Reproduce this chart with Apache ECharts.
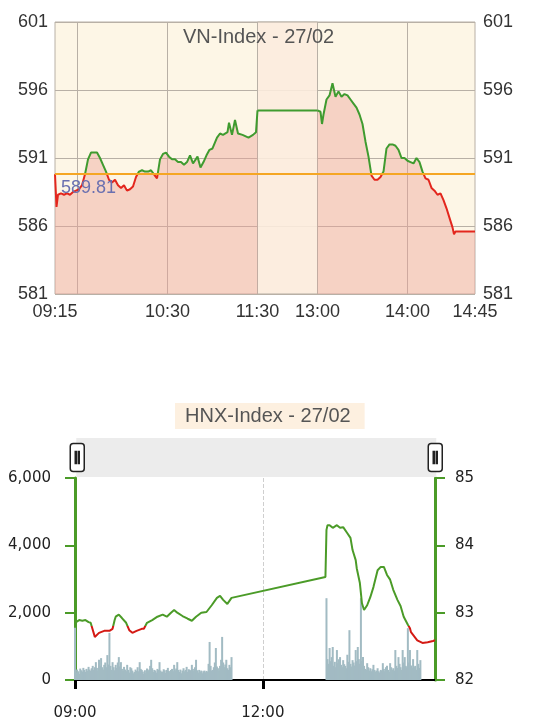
<!DOCTYPE html>
<html>
<head>
<meta charset="utf-8">
<script src="https://cdn.jsdelivr.net/npm/echarts@6/dist/echarts.min.js"></script>
<style>
  html, body { margin: 0; padding: 0; background: #fff; }
  #chart { width: 544px; height: 728px; }
</style>
</head>
<body>
<div id="chart"></div>
<script>
// ---------- VN-Index intraday ----------
const vnTitle = 'VN-Index - 27/02';
const vnRef = 589.81;
const vnTickLabels = ['09:15', '10:30', '11:30', '13:00', '14:00', '14:45'];
const vnGridTimes = ['09:30', '10:30', '11:30', '13:00', '14:00'];
const vnLunch = ['11:30', '13:00'];

const vnAmTimes = ['09:15','09:16','09:17','09:19','09:21','09:23','09:25','09:27','09:29','09:31',
  '09:33','09:35','09:37','09:39','09:41','09:43','09:45','09:47','09:49','09:51',
  '09:53','09:55','09:57','09:59','10:01','10:03','10:05','10:07','10:09','10:11',
  '10:13','10:15','10:17','10:19','10:21','10:23','10:25','10:27','10:29','10:31',
  '10:33','10:35','10:37','10:39','10:41','10:43','10:45','10:47','10:50','10:52',
  '10:54','10:56','10:58','11:00','11:03','11:05','11:07','11:10','11:11','11:13',
  '11:15','11:17','11:20','11:24','11:27','11:29','11:30'];
const vnAmValues = [589.8,587.4,588.3,588.4,588.3,588.4,588.3,588.5,588.6,588.7,
  589.0,589.8,590.9,591.4,591.4,591.4,591.0,590.5,590.0,589.4,
  589.2,589.4,589.0,588.8,589.0,588.6,588.7,588.9,589.6,590.0,
  590.1,590.0,590.0,590.1,589.8,589.5,590.9,591.3,591.4,591.1,
  590.9,590.9,590.7,590.7,590.5,590.7,591.2,590.6,591.1,590.3,
  590.7,591.2,591.6,591.7,592.5,592.8,592.7,592.9,593.6,592.7,
  593.8,592.8,592.7,592.5,592.7,592.9,594.5];

const vnPmTimes = ['13:00','13:02','13:03','13:04','13:06','13:08','13:10','13:12','13:14','13:16',
  '13:18','13:20','13:22','13:24','13:26','13:28','13:30','13:32','13:34','13:36',
  '13:38','13:40','13:42','13:44','13:46','13:48','13:50','13:52','13:54','13:56',
  '13:58','14:00','14:02','14:04','14:06','14:08','14:10','14:12','14:14','14:16',
  '14:18','14:20','14:22','14:24','14:26','14:28','14:30','14:31','14:32','14:45'];
const vnPmValues = [594.5,594.4,593.5,594.2,595.3,595.6,596.5,595.5,595.9,595.5,
  595.7,595.6,595.3,595.0,594.7,594.2,593.5,592.2,591.1,589.7,
  589.4,589.4,589.6,590.0,591.7,592.0,592.0,591.9,591.6,591.0,
  591.0,590.8,590.7,590.6,591.0,590.7,590.0,589.5,589.4,588.8,
  588.6,588.3,588.4,587.9,587.3,586.6,585.9,585.4,585.6,585.6];

// ---------- HNX-Index intraday ----------
const hnxTitle = 'HNX-Index - 27/02';
const hnxRef = 82.8;
const hnxTickLabels = ['09:00', '12:00'];
const hnxTimes = ['09:01','09:04','09:07','09:10','09:13','09:15','09:19','09:23','09:28','09:33',
  '09:36','09:38','09:39','09:42','09:45','09:49','09:52','09:55','09:59','10:04',
  '10:06','10:09','10:14','10:19','10:24','10:28','10:32','10:35','10:38','10:43',
  '10:48','10:52','10:56','11:01','11:06','11:11','11:16','11:19','11:22','11:26',
  '11:30','13:00','13:01','13:02','13:04','13:07','13:11','13:14','13:17','13:21',
  '13:24','13:26','13:29','13:30','13:33','13:35','13:37','13:40','13:43','13:46',
  '13:50','13:53','13:56','13:59','14:02','14:05','14:09','14:12','14:15','14:19',
  '14:21','14:22','14:24','14:28','14:33','14:38','14:43','14:45'];
const hnxValues = [82.86,82.89,82.88,82.89,82.86,82.85,82.64,82.70,82.73,82.73,
  82.76,82.89,82.94,82.97,82.92,82.85,82.74,82.70,82.73,82.76,
  82.76,82.85,82.89,82.94,82.97,82.94,83.00,83.04,83.00,82.95,
  82.91,82.88,82.94,83.00,83.01,83.11,83.22,83.25,83.19,83.13,
  83.22,83.53,84.23,84.30,84.30,84.26,84.30,84.26,84.27,84.18,
  84.11,83.93,83.78,83.66,83.44,83.14,83.04,83.11,83.23,83.38,
  83.63,83.68,83.68,83.56,83.49,83.34,83.19,83.10,82.94,82.82,
  82.77,82.71,82.67,82.59,82.55,82.56,82.58,82.59];

// per-minute volume, morning session from 09:00
const hnxVolAmStart = '09:00';
const hnxVolAm = [1550,
  220,310,260,180,340,290,250,360,300,240,330,280,390,310,270,350,420,300,380,
  530,360,280,600,420,650,380,310,450,520,380,740,460,1400,420,300,530,380,290,450,
  360,520,680,400,530,330,270,390,310,260,450,300,220,380,350,280,200,240,310,270,
  380,260,530,330,300,250,180,290,200,340,260,310,420,600,350,240,300,280,220,330,
  300,530,280,240,250,320,290,210,300,360,270,230,300,330,260,450,290,340,530,300,
  240,310,200,280,350,260,300,390,240,320,300,280,450,330,260,380,600,290,220,300,
  250,280,200,260,280,230,270,250,480,1130,420,280,300,380,520,950,400,350,280,420,
  600,1280,520,380,460,600,350,300,450,380,680];
// per-minute volume, afternoon session from 13:01
const hnxVolPmStart = '13:01';
const hnxVolPm = [2430,620,480,950,560,680,980,420,540,380,
  890,500,620,680,450,380,590,470,420,350,
  750,540,1480,480,400,590,520,430,890,560,
  980,620,480,2430,560,680,420,330,300,500,
  380,280,350,260,320,450,300,250,280,350,
  260,220,300,280,500,330,260,380,420,300,
  240,500,380,300,350,280,890,420,360,680,
  480,380,300,890,520,680,420,380,1540,520,
  890,430,360,620,380,420,300,890,480,360,590];

// ---------- helpers ----------
function minutesOf(t) {
  const p = t.split(':').map(Number);
  return p[0] * 60 + p[1];
}
// VN axis runs on trading minutes with the lunch break squeezed into a fixed band
const vnOpen = minutesOf('09:15');
const vnLunchStart = minutesOf(vnLunch[0]);
const vnLunchEnd = minutesOf(vnLunch[1]);
const vnLunchWidth = 40;
function vnSlot(t) {
  const m = minutesOf(t);
  if (m <= vnLunchStart) return m - vnOpen;
  return (vnLunchStart - vnOpen) + vnLunchWidth + (m - vnLunchEnd);
}
const vnLabelBySlot = {};
vnTickLabels.forEach(t => { vnLabelBySlot[vnSlot(t)] = t; });

const hnxOpen = minutesOf('09:00');
const hnxMinute = t => minutesOf(t) - hnxOpen;
const hnxLabelByMinute = {};
hnxTickLabels.forEach(t => { hnxLabelByMinute[hnxMinute(t)] = t; });

const vnAm = vnAmTimes.map((t, i) => [vnSlot(t), vnAmValues[i]]);
const vnPm = vnPmTimes.map((t, i) => [vnSlot(t), vnPmValues[i]]);
const vnBreak = [[vnSlot(vnLunch[0]), vnAmValues[vnAmValues.length - 1]],
                 [vnSlot(vnLunch[1]), vnPmValues[0]]];
const hnxLine = hnxTimes.map((t, i) => [hnxMinute(t), hnxValues[i]]);
const hnxVol = hnxVolAm.map((v, i) => [hnxMinute(hnxVolAmStart) + i, v])
  .concat(hnxVolPm.map((v, i) => [hnxMinute(hnxVolPmStart) + i, v]));

// ---------- styling ----------
const GREEN = '#3f9b2f';
const RED = '#e3261d';
const HNX_GREEN = '#4b9b28';
const HNX_RED = '#d41a14';
const GRID_LINE = '#b8b0a6';
const SANS = '"Liberation Sans", Arial, Helvetica, sans-serif';
const BOX = '"DejaVu Sans", Verdana, sans-serif';

const chart = echarts.init(document.getElementById('chart'), null, { renderer: 'canvas' });

chart.setOption({
  animation: false,
  title: [
    {
      text: vnTitle, left: 183, top: 27, padding: 0,
      textStyle: { fontFamily: SANS, fontSize: 20, fontWeight: 'normal', color: '#555' }
    },
    {
      text: hnxTitle, left: 175, top: 403, padding: [3, 14, 3, 10],
      backgroundColor: '#fdf0e0',
      textStyle: { fontFamily: SANS, fontSize: 20, fontWeight: 'normal', color: '#555' }
    }
  ],
  grid: [
    { left: 55, right: 69, top: 22, height: 272, show: true,
      backgroundColor: '#fdf6e6', borderColor: GRID_LINE, borderWidth: 1 },
    { left: 75, right: 109, top: 478, height: 202 }
  ],
  xAxis: [
    {
      gridIndex: 0, type: 'value', min: 0, max: vnSlot('14:45'),
      axisLine: { show: false, onZero: false },
      axisTick: { show: false, customValues: vnGridTimes.map(vnSlot) },
      splitLine: { show: true, lineStyle: { color: GRID_LINE, width: 1 } },
      axisLabel: {
        customValues: vnTickLabels.map(vnSlot),
        formatter: v => vnLabelBySlot[v] || '',
        fontFamily: SANS, fontSize: 18, color: '#333', margin: 9
      }
    },
    {
      gridIndex: 1, type: 'value', min: 0, max: hnxMinute('14:45'),
      axisLine: { show: true, onZero: false, lineStyle: { color: '#000', width: 2 } },
      axisTick: { show: true, customValues: hnxTickLabels.map(hnxMinute), length: 9,
        lineStyle: { color: '#000', width: 3 } },
      splitLine: { show: true, lineStyle: { color: '#cfcfcf', type: 'dashed', width: 1 } },
      axisLabel: {
        customValues: hnxTickLabels.map(hnxMinute),
        formatter: v => hnxLabelByMinute[v] || '',
        fontFamily: BOX, fontSize: 15, color: '#222', margin: 26
      }
    }
  ],
  yAxis: [
    {
      gridIndex: 0, type: 'value', min: 581, max: 601, interval: 5, position: 'left',
      axisLine: { show: false, onZero: false }, axisTick: { show: false },
      splitLine: { show: true, lineStyle: { color: GRID_LINE, width: 1 } },
      axisLabel: { fontFamily: SANS, fontSize: 18, color: '#333', margin: 7 }
    },
    {
      gridIndex: 0, type: 'value', min: 581, max: 601, interval: 5, position: 'right',
      axisLine: { show: false, onZero: false }, axisTick: { show: false },
      splitLine: { show: false },
      axisLabel: { fontFamily: SANS, fontSize: 18, color: '#333', margin: 8 }
    },
    {
      gridIndex: 1, type: 'value', min: 0, max: 6000, interval: 2000, position: 'left',
      axisLine: { show: true, onZero: false, lineStyle: { color: HNX_GREEN, width: 3 } },
      axisTick: { show: true, length: 10, lineStyle: { color: HNX_GREEN, width: 2 } },
      splitLine: { show: false },
      axisLabel: { fontFamily: BOX, fontSize: 15, color: '#222', margin: 24,
        formatter: v => v.toLocaleString('en-US') }
    },
    {
      gridIndex: 1, type: 'value', min: 82, max: 85, interval: 1, position: 'right',
      axisLine: { show: true, onZero: false, lineStyle: { color: HNX_GREEN, width: 3 } },
      axisTick: { show: true, length: 10, lineStyle: { color: HNX_GREEN, width: 2 } },
      splitLine: { show: false },
      axisLabel: { fontFamily: BOX, fontSize: 15, color: '#222', margin: 20 }
    }
  ],
  dataZoom: [
    {
      type: 'slider', xAxisIndex: 1, start: 0, end: 100, filterMode: 'none',
      left: 75, right: 109, top: 438, height: 39,
      backgroundColor: '#ececec', borderColor: 'transparent',
      fillerColor: 'rgba(0,0,0,0)',
      showDataShadow: false, showDetail: false, brushSelect: false,
      moveHandleSize: 0,
      dataBackground: { lineStyle: { opacity: 0 }, areaStyle: { opacity: 0 } },
      selectedDataBackground: { lineStyle: { opacity: 0 }, areaStyle: { opacity: 0 } },
      handleIcon: 'path://M3,0H11A3,3,0,0,1,14,3V25A3,3,0,0,1,11,28H3A3,3,0,0,1,0,25V3A3,3,0,0,1,3,0Z' +
        'M5,8V20H6V8Z M8,8V20H9V8Z',
      handleSize: 28,
      handleStyle: { color: '#fff', borderColor: '#222', borderWidth: 1.5 }
    }
  ],
  visualMap: [
    {
      type: 'piecewise', show: false, seriesIndex: [0, 1, 2], dimension: 1,
      pieces: [
        { gt: 500, lte: vnRef, color: RED },
        { gt: vnRef, lte: 700, color: GREEN }
      ]
    },
    {
      type: 'piecewise', show: false, seriesIndex: 4, dimension: 1,
      pieces: [
        { gt: 50, lte: hnxRef, color: HNX_RED },
        { gt: hnxRef, lte: 120, color: HNX_GREEN }
      ]
    }
  ],
  series: [
    {
      name: 'VN sáng', type: 'line', xAxisIndex: 0, yAxisIndex: 0,
      data: vnAm, showSymbol: false, z: 3,
      lineStyle: { width: 2 },
      areaStyle: { color: 'rgba(236,160,150,0.6)', origin: 'start' },
      markLine: {
        silent: true, symbol: 'none',
        lineStyle: { color: '#f5a623', width: 2, type: 'solid' },
        label: { show: true, position: 'insideStartBottom', formatter: String(vnRef),
          fontFamily: SANS, fontSize: 18, color: '#6a70b0', distance: [6, 5] },
        data: [{ yAxis: vnRef }]
      }
    },
    {
      name: 'VN nghỉ trưa', type: 'line', xAxisIndex: 0, yAxisIndex: 0,
      data: vnBreak, showSymbol: false, z: 3,
      lineStyle: { width: 2 },
      markArea: {
        silent: true,
        itemStyle: { color: 'rgba(252,236,222,0.88)', borderColor: GRID_LINE, borderWidth: 1 },
        data: [[{ xAxis: vnSlot(vnLunch[0]) }, { xAxis: vnSlot(vnLunch[1]) }]]
      }
    },
    {
      name: 'VN chiều', type: 'line', xAxisIndex: 0, yAxisIndex: 0,
      data: vnPm, showSymbol: false, z: 3,
      lineStyle: { width: 2 },
      areaStyle: { color: 'rgba(236,160,150,0.6)', origin: 'start' }
    },
    {
      name: 'HNX KL', type: 'bar', xAxisIndex: 1, yAxisIndex: 2,
      data: hnxVol, barWidth: 2, itemStyle: { color: '#a2bbc3' }
    },
    {
      name: 'HNX', type: 'line', xAxisIndex: 1, yAxisIndex: 3,
      data: hnxLine, showSymbol: false, z: 4,
      lineStyle: { width: 2 }
    }
  ]
});
</script>
</body>
</html>
